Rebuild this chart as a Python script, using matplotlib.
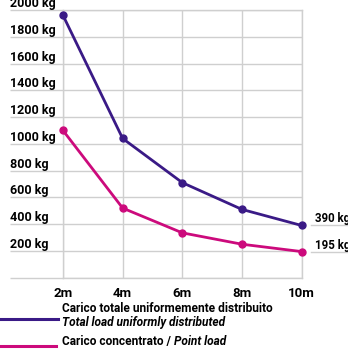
import matplotlib
matplotlib.use("Agg")
import matplotlib.pyplot as plt
import matplotlib.transforms as mtransforms
from matplotlib.lines import Line2D

# dati
luce = [2, 4, 6, 8, 10]
carico_distribuito = [1960, 1040, 710, 510, 390]
carico_concentrato = [1100, 520, 335, 250, 195]
yticks = [0, 200, 400, 600, 800, 1000, 1200, 1400, 1600, 1800, 2000]
ylabels = ["", "200 kg", "400 kg", "600 kg", "800 kg", "1000 kg", "1200 kg",
           "1400 kg", "1600 kg", "1800 kg", "2000 kg"]
xlabels = ["2m", "4m", "6m", "8m", "10m"]
etichette_fine = ["390 kg", "195 kg"]

blu = "#3a1a86"
rosa = "#cc0a7c"
grigio = "#cfcfcf"

plt.rcParams["font.family"] = ["Roboto", "DejaVu Sans"]
fs = 9
fs_leg = 8.6
peso = "bold"

fig = plt.figure(figsize=(3.48, 3.60), dpi=100)
ax = fig.add_axes([63 / 348, 1 - 277.7 / 360, (301.7 - 63) / 348, (277.7 - 10) / 360])

ax.plot(luce, carico_distribuito, color=blu, linewidth=2, marker="o", markersize=5, clip_on=False, zorder=3)
ax.plot(luce, carico_concentrato, color=rosa, linewidth=2, marker="o", markersize=5, clip_on=False, zorder=3)

ax.set_xlim(2, 10)
ax.set_ylim(0, 2000)
ax.set_xticks(luce)
ax.set_xticklabels(xlabels, fontsize=fs + 0.5, weight=peso)
ax.set_yticks(yticks)
ax.set_yticklabels(ylabels, fontsize=fs, weight=peso)
ax.tick_params(axis="x", length=0, pad=7)
ax.tick_params(axis="y", length=38, pad=0, color=grigio, width=1)
plt.setp(ax.get_yticklabels(), ha="left", va="bottom")
ax.grid(True, color=grigio, linewidth=1)
for s in ax.spines.values():
    s.set_color(grigio)
    s.set_linewidth(1)

# etichette finali a destra
trans = mtransforms.blended_transform_factory(ax.transAxes, ax.transData)
for val, lab in zip([carico_distribuito[-1], carico_concentrato[-1]], etichette_fine):
    ax.plot([1.04, 1.3], [val, val], color=grigio, linewidth=1, transform=trans, clip_on=False)
    ax.text(1.055, val, lab, transform=trans, ha="left", va="bottom", fontsize=8.3, weight=peso)

# legenda
fig.add_artist(Line2D([0, 58 / 348], [1 - 319 / 360, 1 - 319 / 360], color=blu, linewidth=2.2))
fig.add_artist(Line2D([0, 56 / 348], [1 - 346 / 360, 1 - 346 / 360], color=rosa, linewidth=2.2))
fig.text(62 / 348, 1 - 312 / 360, "Carico totale uniformemente distribuito", fontsize=fs_leg, weight=peso, va="baseline")
fig.text(62 / 348, 1 - 326 / 360, "Total load uniformly distributed", fontsize=fs_leg, weight=peso, style="italic", va="baseline")
t1 = fig.text(62 / 348, 1 - 345 / 360, "Carico concentrato / ", fontsize=fs_leg, weight=peso, va="baseline")
fig.canvas.draw()
bb = t1.get_window_extent()
fig.text(bb.x1 / fig.bbox.width, 1 - 345 / 360, "Point load", fontsize=fs_leg, weight=peso, style="italic", va="baseline")

fig.savefig("out.png", dpi=100)
